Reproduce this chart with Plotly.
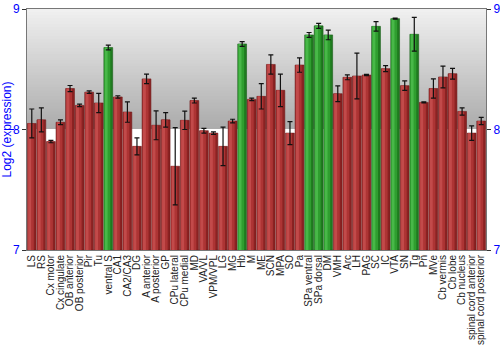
import plotly.graph_objects as go

categories = ["LS", "RS", "Cx motor", "Cx cingulate", "OB anterior", "OB posterior", "Pir", "Tu",
              "ventral S", "CA1", "CA2/CA3", "DG", "A anterior", "A posterior", "GP", "CPu lateral",
              "CPu medial", "MD", "VA/VL", "VPM/VPL", "LG", "MG", "Hb", "M", "ME", "SCN", "MPA",
              "SO", "Pa", "SPa ventral", "SPa dorsal", "DM", "VMH", "Arc", "LH", "PAG", "SC", "IC",
              "VTA", "SN", "Tg", "Pn", "MVe", "Cb vermis", "Cb lobe", "Cb nucleus",
              "spinal cord anterior", "spinal cord posterior"]
values = [8.05, 8.08, 7.90, 8.06, 8.34, 8.20, 8.31, 8.22,
          8.68, 8.27, 8.145, 7.86, 8.42, 8.035, 8.08, 7.695,
          8.076, 8.24, 7.99, 7.97, 7.86, 8.07, 8.71, 8.25, 8.275, 8.54, 8.325,
          7.97, 8.535, 8.785, 8.86, 8.785, 8.297, 8.433, 8.444, 8.452, 8.856, 8.505,
          8.92, 8.364, 8.79, 8.225, 8.34, 8.436, 8.463, 8.15,
          7.97, 8.07]
errors = [0.12, 0.10, 0.01, 0.02, 0.025, 0.01, 0.01, 0.08,
          0.02, 0.01, 0.085, 0.07, 0.04, 0.12, 0.06, 0.32,
          0.076, 0.02, 0.02, 0.01, 0.16, 0.015, 0.02, 0.01, 0.105, 0.08, 0.135,
          0.095, 0.06, 0.02, 0.02, 0.04, 0.065, 0.02, 0.19, 0.005, 0.04, 0.025,
          0.005, 0.04, 0.14, 0.004, 0.08, 0.09, 0.045, 0.03,
          0.06, 0.03]
highlighted = ["ventral S", "Hb", "SPa ventral", "SPa dorsal", "DM", "SC", "VTA", "Tg"]

base = 7
heights = [v - base for v in values]
is_hi = [c in highlighted for c in categories]

dark = ["#1f7a1f" if h else "#8a2222" for h in is_hi]
mid = ["#2f9e2f" if h else "#ad3434" for h in is_hi]
light = ["#48b848" if h else "#c24a4a" for h in is_hi]
edge = ["#1a5e1a" if h else "#6e1a1a" for h in is_hi]

fig = go.Figure()
fig.add_trace(go.Bar(x=categories, y=heights, base=base, width=0.92,
                     marker=dict(color=dark, line=dict(color=edge, width=0.6)),
                     hoverinfo="skip"))
fig.add_trace(go.Bar(x=categories, y=heights, base=base, width=0.62, offset=-0.41,
                     marker=dict(color=mid, line=dict(width=0)), hoverinfo="skip"))
fig.add_trace(go.Bar(x=categories, y=heights, base=base, width=0.3, offset=-0.37,
                     marker=dict(color=light, line=dict(width=0)), hoverinfo="skip"))
fig.add_trace(go.Bar(x=categories, y=heights, base=base, width=0.92,
                     marker=dict(color="rgba(0,0,0,0)", line=dict(width=0)),
                     error_y=dict(type="data", array=errors, color="#111111",
                                  thickness=1.2, width=2.5)))

# background gradient (styling)
shapes = []
n = 40
for i in range(n):
    y0 = 8 + i / n
    y1 = min(9, 8 + (i + 2) / n)
    t = i / (n - 1)
    g = int(172 + (240 - 172) * t)
    shapes.append(dict(type="rect", xref="paper", yref="y", x0=0, x1=1, y0=y0, y1=y1,
                       fillcolor=f"rgb({g},{g},{g})", line=dict(width=0), layer="below"))

fig.update_layout(
    width=500, height=350,
    margin=dict(l=27, r=14, t=9, b=100),
    barmode="overlay",
    showlegend=False,
    plot_bgcolor="white",
    paper_bgcolor="white",
    shapes=shapes,
    font=dict(family="Liberation Sans, Arial, sans-serif"),
    xaxis=dict(tickangle=-90, tickfont=dict(size=10, color="#222222"),
               tickmode="array", tickvals=categories, ticktext=categories,
               showline=True, linecolor="#777777", mirror=True, ticks="",
               automargin=False, range=[-0.5, len(categories) - 0.5]),
    yaxis=dict(range=[7, 9], tickvals=[7, 8, 9], ticks="outside", ticklen=4,
               tickcolor="#333333", tickfont=dict(size=12, color="#0000ff"),
               showgrid=True, gridcolor="white", gridwidth=1, zeroline=False,
               showline=True, linecolor="#777777", automargin=False,
               title=dict(text="Log2 (expression)", font=dict(size=12, color="#0000ff"),
                          standoff=2)),
    yaxis2=dict(range=[7, 9], tickvals=[7, 8, 9], overlaying="y", side="right",
                ticks="outside", ticklen=4, tickcolor="#333333",
                tickfont=dict(size=12, color="#0000ff"), showgrid=False,
                zeroline=False, showline=True, linecolor="#777777", automargin=False),
)
fig.add_trace(go.Scatter(x=[categories[0]], y=[7], yaxis="y2", mode="markers",
                         marker=dict(opacity=0), hoverinfo="skip"))
fig.write_html("out.html")
